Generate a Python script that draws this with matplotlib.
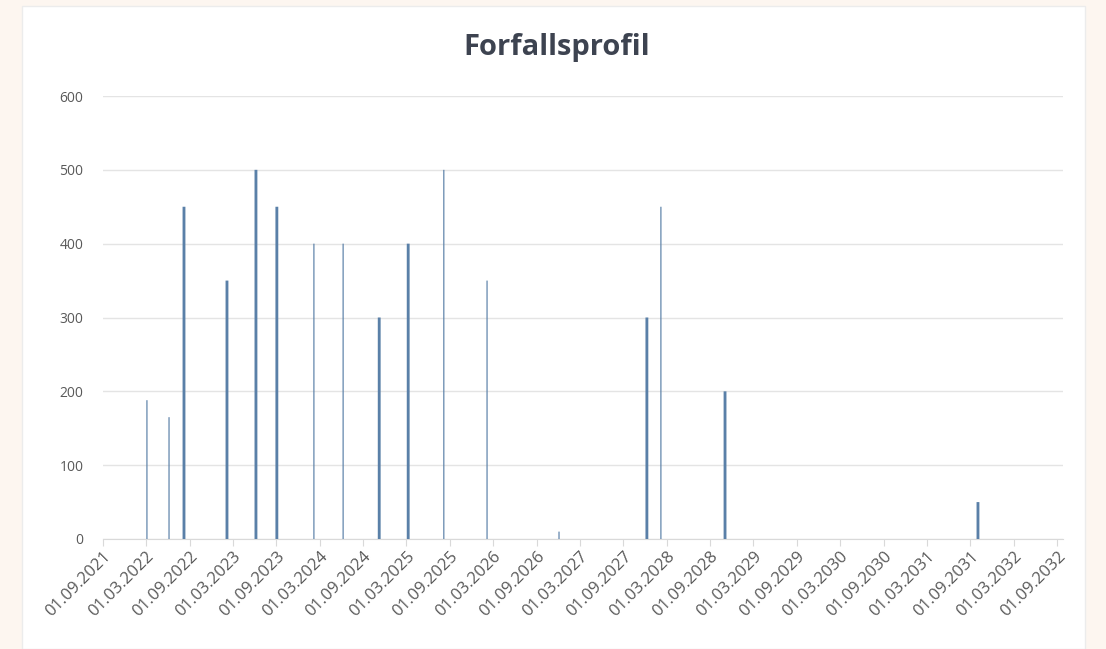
import pandas as pd
import matplotlib.pyplot as plt
import matplotlib.dates as mdates
from matplotlib.patches import Rectangle

plt.rcParams['font.family'] = ['Open Sans', 'DejaVu Sans']

# Maturity dates and amounts
dates = ['2022-03-05', '2022-06-06', '2022-08-08', '2023-02-05', '2023-06-07',
         '2023-09-03', '2024-02-06', '2024-06-08', '2024-11-07', '2025-03-09',
         '2025-08-06', '2026-02-04', '2026-12-04', '2027-12-09', '2028-02-06',
         '2028-11-02', '2031-10-03']
amounts = [188, 165, 450, 350, 500, 450, 400, 400, 300, 400, 500, 350, 10,
           300, 450, 200, 50]

# bar thickness in days (some bars look heavier in the picture)
bar_widths = [5, 5, 12, 12, 12, 12, 5, 5, 12, 12, 5, 5, 5, 12, 5, 12, 12]

tick_dates = pd.date_range('2021-09-01', '2032-09-01', freq='6MS')
tick_dates = [d for d in tick_dates if d.month in (3, 9)]

x = pd.to_datetime(dates)

fig = plt.figure(figsize=(11.06, 6.49), dpi=100)
fig.patch.set_facecolor('#fdf6f0')

# white chart area behind the axes
bg = Rectangle((22 / 1106, 0), (1085 - 22) / 1106, (649 - 6) / 649,
               transform=fig.transFigure, facecolor='white',
               edgecolor='#ececec', linewidth=1, zorder=-10)
fig.patches.append(bg)

ax = fig.add_axes([103 / 1106, (649 - 539) / 649, (1063 - 103) / 1106, (539 - 96) / 649])
ax.set_facecolor('none')

bars = ax.bar(x, amounts, width=bar_widths, color='#5a80a8', zorder=3)
for b in bars:
    b.set_snap(False)

ax.set_ylim(0, 600)
ax.set_yticks(range(0, 601, 100))
ax.set_xlim(pd.Timestamp('2021-09-01'), pd.Timestamp('2032-09-25'))
ax.set_xticks(tick_dates)
ax.xaxis.set_major_formatter(mdates.DateFormatter('%d.%m.%Y'))

ax.grid(axis='y', color='#e4e4e4', linewidth=1, zorder=0)
for s in ['top', 'right', 'left']:
    ax.spines[s].set_visible(False)
ax.spines['bottom'].set_color('#d9d9d9')

ax.tick_params(axis='y', length=0, labelsize=10, labelcolor='#595959', pad=14)
ax.tick_params(axis='x', length=5, color='#d9d9d9', labelsize=12,
               labelcolor='#595959', pad=2)
for lbl in ax.get_xticklabels():
    lbl.set_rotation(45)
    lbl.set_ha('right')
    lbl.set_rotation_mode('anchor')

fig.text(557 / 1106, 1 - 48 / 649, 'Forfallsprofil', ha='center', va='center',
         fontsize=21, fontweight='bold', color='#3d4350')

fig.savefig('out.png', dpi=100, facecolor=fig.get_facecolor())
